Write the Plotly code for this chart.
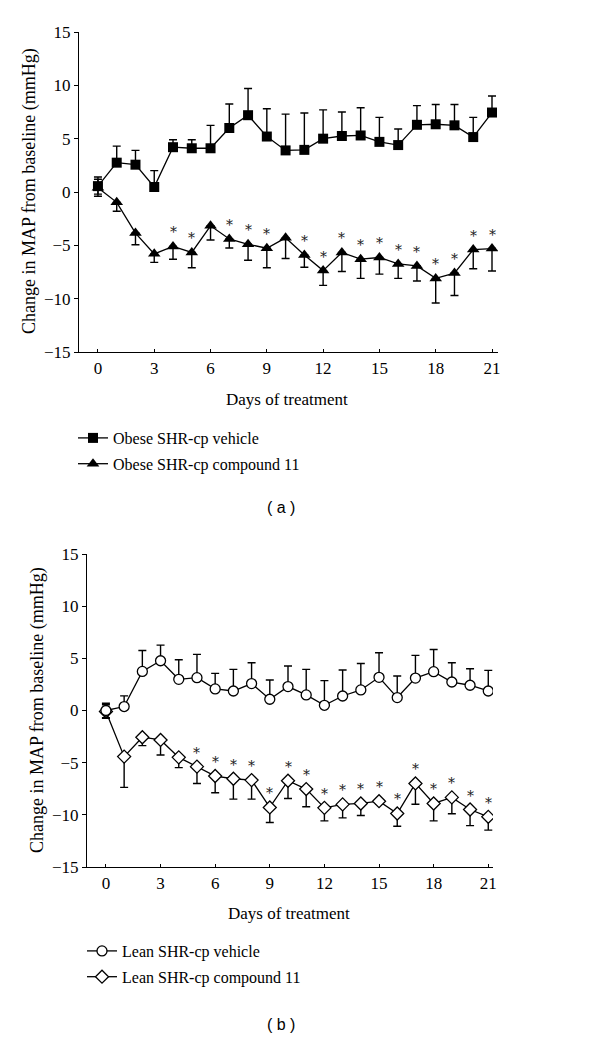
import plotly.graph_objects as go

days = list(range(22))
x_ticks = [0, 3, 6, 9, 12, 15, 18, 21]
y_ticks = [-15, -10, -5, 0, 5, 10, 15]

# Panel (a): Obese SHR-cp
a_vehicle = [0.55, 2.75, 2.56, 0.47, 4.2, 4.1, 4.1, 6.0, 7.2, 5.2, 3.9, 3.95,
             5.0, 5.25, 5.3, 4.7, 4.4, 6.3, 6.35, 6.25, 5.15, 7.45]
a_vehicle_err_up = [0.85, 1.55, 1.34, 1.53, 0.7, 0.8, 2.15, 2.25, 2.5, 2.6, 3.4, 3.45,
                    2.7, 2.25, 2.6, 2.3, 1.5, 1.8, 1.85, 1.95, 1.85, 1.55]
a_vehicle_err_down = [0.75] + [0] * 21

a_compound = [0.4, -0.97, -3.85, -5.8, -5.1, -5.67, -3.17, -4.4, -4.9, -5.27, -4.3, -5.9,
              -7.37, -5.67, -6.3, -6.14, -6.74, -6.93, -8.1, -7.6, -5.4, -5.3]
a_compound_err_down = [0.8, 0.83, 1.1, 0.8, 1.2, 1.43, 1.33, 0.85, 1.5, 1.83, 1.94, 1.15,
                       1.38, 1.79, 1.8, 1.56, 1.36, 1.41, 2.3, 2.1, 1.8, 2.1]
a_compound_err_up = [0.8] + [0] * 21
a_signif = [0, 0, 0, 0, 1, 1, 0, 1, 1, 1, 0, 1, 1, 1, 1, 1, 1, 1, 1, 1, 1, 1]

# Panel (b): Lean SHR-cp
b_vehicle = [0.0, 0.38, 3.75, 4.77, 2.99, 3.15, 2.07, 1.87, 2.58, 1.08, 2.29, 1.49,
             0.5, 1.39, 1.97, 3.18, 1.24, 3.11, 3.72, 2.73, 2.42, 1.87]
b_vehicle_err_up = [0.7, 1.02, 2.0, 1.5, 1.88, 2.23, 1.49, 2.07, 2.0, 1.84, 1.97, 2.45,
                    2.36, 2.49, 2.53, 2.35, 2.06, 2.17, 2.13, 1.85, 1.58, 1.98]
b_vehicle_err_down = [0.7] + [0] * 21

b_compound = [-0.1, -4.42, -2.56, -2.82, -4.49, -5.38, -6.28, -6.54, -6.67, -9.29, -6.73, -7.53,
              -9.33, -9.0, -8.91, -8.69, -9.87, -6.99, -8.91, -8.33, -9.49, -10.19]
b_compound_err_down = [0.65, 2.95, 0.81, 1.44, 0.99, 1.61, 1.6, 1.95, 1.82, 1.45, 1.7, 1.7,
                       1.25, 1.29, 1.15, 0.3, 1.22, 2.0, 1.67, 1.57, 1.54, 1.28]
b_compound_err_up = [0.65] + [0] * 21
b_signif = [0, 0, 0, 0, 0, 1, 1, 1, 1, 1, 1, 1, 1, 1, 1, 1, 1, 1, 1, 1, 1, 1]

SERIF = "Liberation Serif"
W, H = 600, 1040


def px_x(p):
    return p / W


def px_y(p):
    return 1 - p / H


def err(up, down):
    return dict(type="data", symmetric=False, array=up, arrayminus=down,
                color="black", thickness=1.4, width=4)


fig = go.Figure()

# Panel (a)
fig.add_trace(go.Scatter(
    x=days, y=a_compound, mode="lines+markers", name="Obese SHR-cp compound 11",
    line=dict(color="black", width=1.3),
    marker=dict(symbol="triangle-up", size=11, color="black"),
    error_y=err(a_compound_err_up, a_compound_err_down),
    xaxis="x", yaxis="y", legend="legend", legendrank=2, legendgroup="a2"))
fig.add_trace(go.Scatter(
    x=days, y=a_vehicle, mode="lines+markers", name="Obese SHR-cp vehicle",
    line=dict(color="black", width=1.3),
    marker=dict(symbol="square", size=10, color="black"),
    error_y=err(a_vehicle_err_up, a_vehicle_err_down),
    xaxis="x", yaxis="y", legend="legend", legendrank=1, legendgroup="a1"))

# Panel (b)
fig.add_trace(go.Scatter(
    x=days, y=b_compound, mode="lines+markers", name="Lean SHR-cp compound 11",
    line=dict(color="black", width=1.3),
    marker=dict(symbol="diamond", size=10, color="white", line=dict(color="black", width=1.3)),
    error_y=err(b_compound_err_up, b_compound_err_down),
    xaxis="x2", yaxis="y2", legend="legend2", legendrank=2, legendgroup="b2"))
fig.add_trace(go.Scatter(
    x=days, y=b_vehicle, mode="lines+markers", name="Lean SHR-cp vehicle",
    line=dict(color="black", width=1.3),
    marker=dict(symbol="circle", size=10, color="white", line=dict(color="black", width=1.3)),
    error_y=err(b_vehicle_err_up, b_vehicle_err_down),
    xaxis="x2", yaxis="y2", legend="legend2", legendrank=1, legendgroup="b1"))

star_font = dict(family="DejaVu Serif", size=14, color="#222")
annotations = []
for d, v, s in zip(days, a_compound, a_signif):
    if s:
        annotations.append(dict(x=d, y=v, xref="x", yref="y", text="*", showarrow=False,
                                yshift=14, font=star_font))
for d, v, s in zip(days, b_compound, b_signif):
    if s:
        annotations.append(dict(x=d, y=v, xref="x2", yref="y2", text="*", showarrow=False,
                                yshift=14, font=star_font))

ytitle_font = dict(family=SERIF, size=18, color="black")
xtitle_font = dict(family=SERIF, size=17, color="black")
annotations += [
    dict(x=px_x(29), y=px_y(191), xref="paper", yref="paper", text="Change in MAP from baseline (mmHg)",
         textangle=-90, showarrow=False, font=ytitle_font, xanchor="center", yanchor="middle"),
    dict(x=px_x(37), y=px_y(710), xref="paper", yref="paper", text="Change in MAP from baseline (mmHg)",
         textangle=-90, showarrow=False, font=ytitle_font, xanchor="center", yanchor="middle"),
    dict(x=px_x(287), y=px_y(400), xref="paper", yref="paper", text="Days of treatment",
         showarrow=False, font=xtitle_font, xanchor="center", yanchor="middle"),
    dict(x=px_x(289), y=px_y(913), xref="paper", yref="paper", text="Days of treatment",
         showarrow=False, font=xtitle_font, xanchor="center", yanchor="middle"),
    dict(x=px_x(281), y=px_y(507), xref="paper", yref="paper", text="( a )",
         showarrow=False, font=dict(family="Liberation Sans", size=16, color="black"),
         xanchor="center", yanchor="middle"),
    dict(x=px_x(281), y=px_y(1024), xref="paper", yref="paper", text="( b )",
         showarrow=False, font=dict(family="Liberation Sans", size=16, color="black"),
         xanchor="center", yanchor="middle"),
]

tick_font = dict(family=SERIF, size=17, color="black")
xcommon = dict(tickmode="array", tickvals=x_ticks, ticks="inside", ticklen=3, tickcolor="black",
               showline=True, linecolor="black", linewidth=1.2, showgrid=False, zeroline=False,
               tickfont=tick_font, automargin=False)
ycommon = dict(tickmode="array", tickvals=y_ticks, range=[-15, 15], ticks="outside", ticklen=4,
               tickcolor="black", showline=True, linecolor="black", linewidth=1.2,
               showgrid=False, zeroline=False, tickfont=tick_font, automargin=False)

legend_common = dict(font=dict(family=SERIF, size=16, color="black"), bgcolor="rgba(0,0,0,0)",
                     xanchor="left", yanchor="top", itemwidth=30, tracegroupgap=2,
                     traceorder="grouped", orientation="v")

fig.update_layout(
    width=W, height=H, margin=dict(l=0, r=0, t=0, b=0, autoexpand=False),
    paper_bgcolor="white", plot_bgcolor="white",
    showlegend=True,
    xaxis=dict(domain=[px_x(79), px_x(498)], range=[-1.01, 21.32], anchor="y", **xcommon),
    yaxis=dict(domain=[px_y(352), px_y(32)], anchor="x", **ycommon),
    xaxis2=dict(domain=[px_x(87), px_x(493)], range=[-1.04, 21.26], anchor="y2", **xcommon),
    yaxis2=dict(domain=[px_y(867), px_y(554)], anchor="x2", **ycommon),
    legend=dict(x=px_x(73), y=px_y(421), **legend_common),
    legend2=dict(x=px_x(82), y=px_y(934), **legend_common),
    annotations=annotations,
)

fig.write_html("out.html", config={"displayModeBar": False},
               post_script="document.body.style.margin='0';")
